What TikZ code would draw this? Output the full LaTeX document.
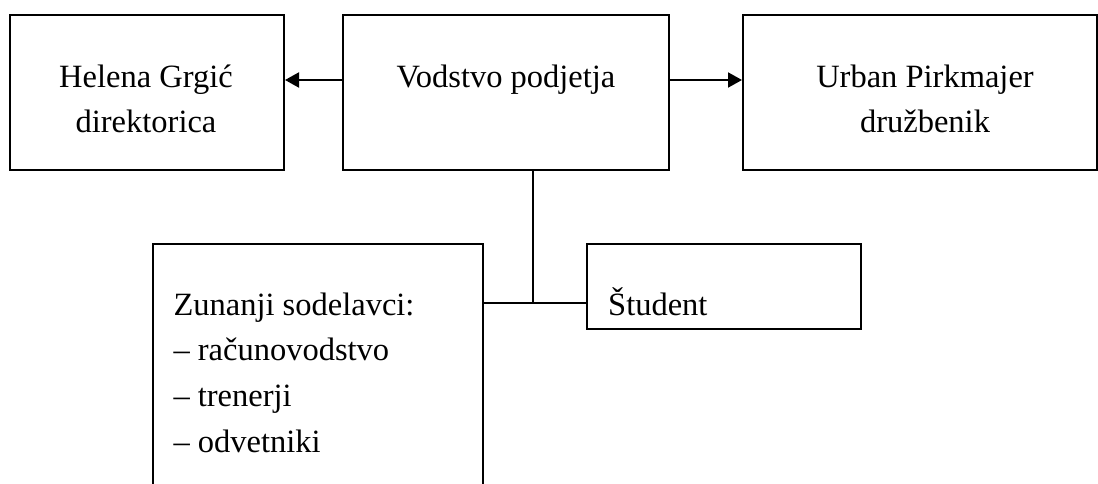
\documentclass[tikz,border=0pt]{standalone}
\usepackage{fontspec}
\setmainfont{Liberation Serif}
\usetikzlibrary{arrows.meta}
\begin{document}
\begin{tikzpicture}[x=1pt,y=-1pt,
  box/.style={draw,line width=2pt,rectangle,inner sep=0pt},
  txt/.style={anchor=base,inner sep=0pt,font=\fontsize{32.5}{45.5}\selectfont},
  conn/.style={line width=2pt},
  arr/.style={line width=2pt,-{Triangle[length=14pt,width=15pt]}}]
\useasboundingbox (0,0) rectangle (1098,484);
\clip (0,0) rectangle (1098,484);
% boxes
\node[box,minimum width=274pt,minimum height=155pt] (hel) at (147,92.5) {};
\node[box,minimum width=326pt,minimum height=155pt] (vod) at (506.3,92.5) {};
\node[box,minimum width=354pt,minimum height=155pt] (urb) at (920,92.5) {};
\node[box,minimum width=330pt,minimum height=276pt] (zun) at (318.3,382) {};
\node[box,minimum width=274pt,minimum height=85.3pt] (stu) at (723.7,286.7) {};
% texts
\node[txt] (hel1) at (146,88) {Helena Grgić};
\node[txt] (hel2) at (146,133) {direktorica};
\node[txt] (vod1) at (506,88) {Vodstvo podjetja};
\node[txt] (urb1) at (925,88) {Urban Pirkmajer};
\node[txt] (urb2) at (925,133) {družbenik};
\node[txt,anchor=base west] (zun1) at (173.3,315) {Zunanji sodelavci:};
\node[txt,anchor=base west] (zun2) at (173.3,360.5) {– računovodstvo};
\node[txt,anchor=base west] (zun3) at (173.3,406.5) {– trenerji};
\node[txt,anchor=base west] (zun4) at (173.3,452.5) {– odvetniki};
\node[txt,anchor=base west] (stu1) at (608,315) {Študent};
% connectors
\coordinate (ay) at (0,80);
\coordinate (jn) at (533.3,302.5);
\draw[arr] (vod.west |- ay) -- (hel.east |- ay);
\draw[arr] (vod.east |- ay) -- (urb.west |- ay);
\draw[conn] (vod.south -| jn) -- (jn);
\draw[conn] (zun.east |- jn) -- (stu.west |- jn);
\end{tikzpicture}
\end{document}
